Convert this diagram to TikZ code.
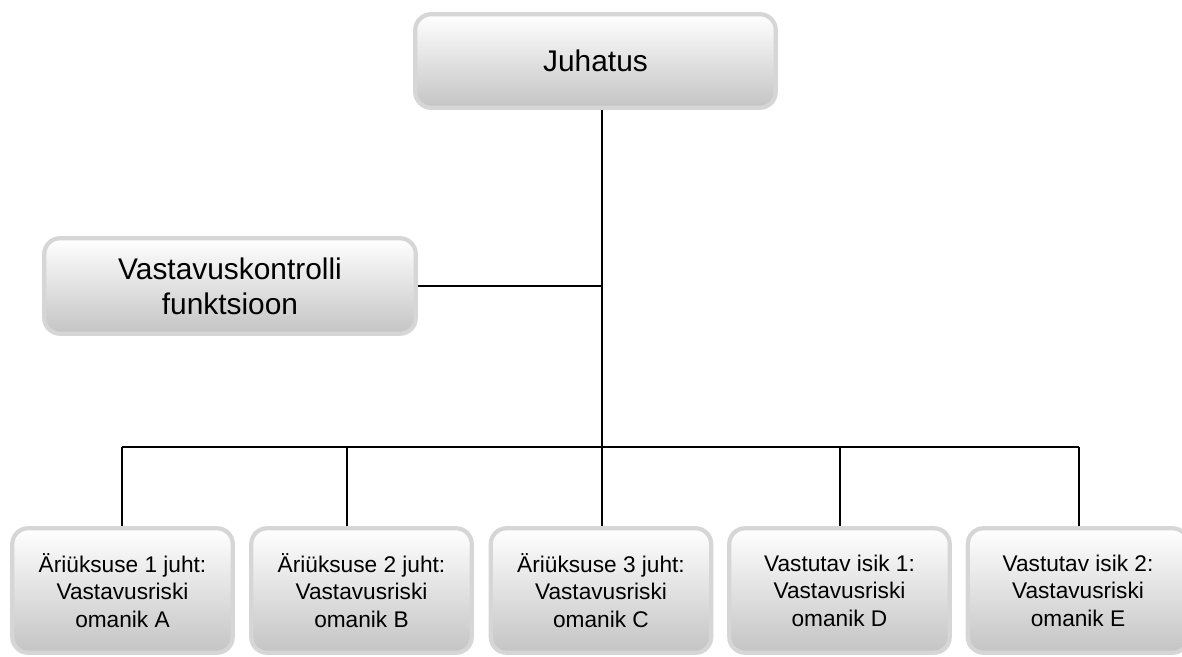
\documentclass[tikz,border=0pt]{standalone}
\usepackage{fontspec}
\setmainfont{Liberation Sans}
\usetikzlibrary{positioning, calc}
\definecolor{boxedge}{RGB}{214,214,214}
\definecolor{boxlow}{RGB}{196,196,196}

\begin{document}
\begin{tikzpicture}[x=1cm, y=1cm, semithick,
    box/.style={rectangle, rounded corners=9pt, draw=boxedge, line width=2.4pt,
      top color=white, bottom color=boxlow, align=center, inner sep=2pt},
    big/.style={box, font=\fontsize{17}{20}\selectfont},
    small/.style={box, font=\fontsize{12.9}{15.6}\selectfont,
      minimum width=4.41cm, minimum height=2.49cm}]
      \useasboundingbox (0,0) rectangle (23.64,-13.14);
      \node[big, minimum width=7.21cm, minimum height=1.87cm] (J) at (11.91,-1.22) {Juhatus};
      \node[big, minimum width=7.43cm, minimum height=1.91cm] (K) at (4.6,-5.72)
        {Vastavuskontrolli\\funktsioon};
      \node[small] (A) at (2.45,-11.81) {Äriüksuse 1 juht:\\Vastavusriski\\omanik A};
      \node[small] (B) at (7.23,-11.81) {Äriüksuse 2 juht:\\Vastavusriski\\omanik B};
      \node[small] (C) at (12.02,-11.81) {Äriüksuse 3 juht:\\Vastavusriski\\omanik C};
      \node[small] (D) at (16.79,-11.81) {Vastutav isik 1:\\Vastavusriski\\omanik D};
      \node[small] (E) at (21.56,-11.81) {Vastutav isik 2:\\Vastavusriski\\omanik E};
      % connectors
      \coordinate (t) at (12.04,-8.94);
      \coordinate (ba) at (2.44,-8.94);
      \coordinate (bb) at (6.94,-8.94);
      \coordinate (bd) at (16.80,-8.94);
      \coordinate (be) at (21.58,-8.94);
      \draw (J.south -| t) -- (t);
      \draw (K.east) -- (K.east -| t);
      \draw (ba) -- (be);
      \draw (ba) -- (ba |- A.north);
      \draw (bb) -- (bb |- B.north);
      \draw (t) -- (t |- C.north);
      \draw (bd) -- (bd |- D.north);
      \draw (be) -- (be |- E.north);
\end{tikzpicture}
\end{document}
